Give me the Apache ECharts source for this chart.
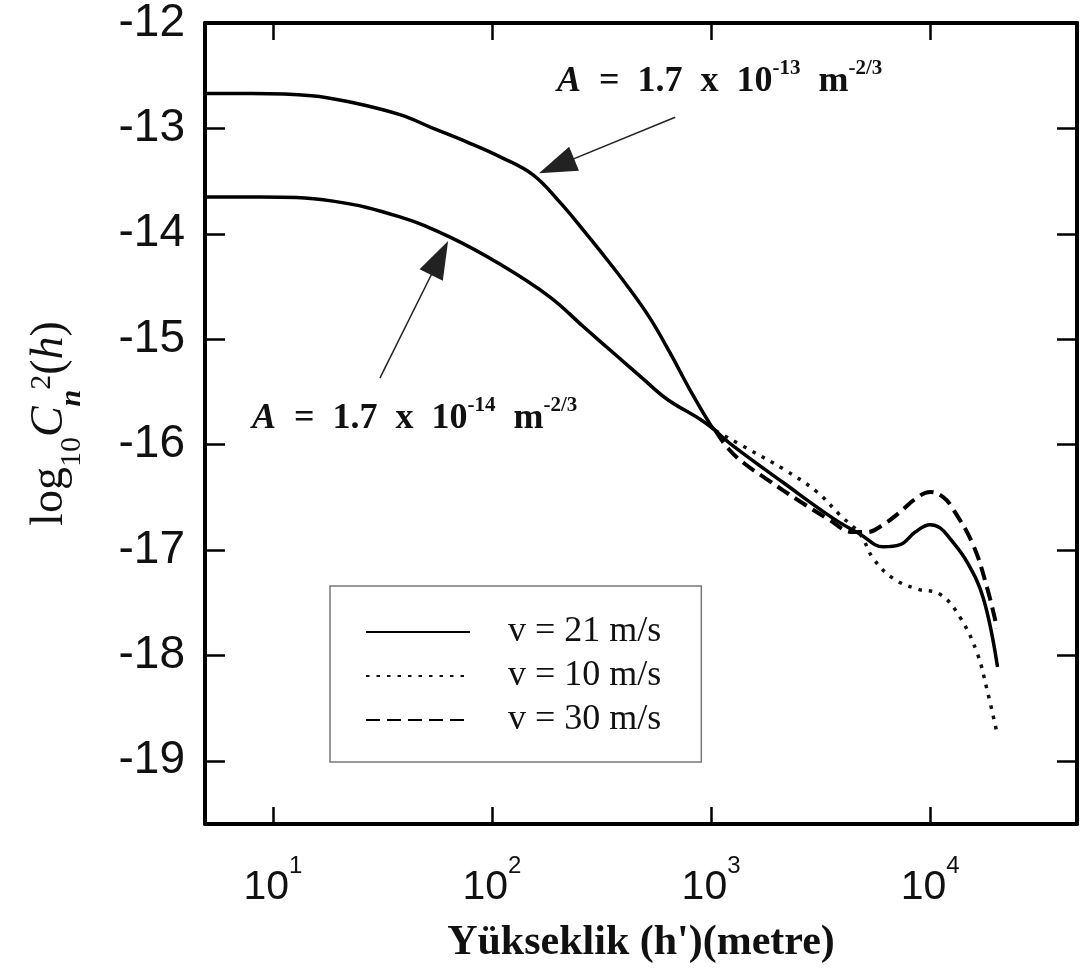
<!DOCTYPE html>
<html>
<head>
<meta charset="utf-8">
<script src="https://cdn.jsdelivr.net/npm/echarts@6/dist/echarts.min.js"></script>
<style>html,body{margin:0;padding:0;background:#fff}#c{width:1086px;height:970px}</style>
</head>
<body>
<div id="c"></div>
<script>
// ---- data ----
const yTicks = [-19, -18, -17, -16, -15, -14, -13, -12];
const xMin = 4.9, xMax = 46800, yMin = -19.6, yMax = -12;

// A = 1.7e-13, v = 21 m/s (solid, full range)
const hUpper = [4.9, 8, 15, 22.5, 38, 54, 77, 109, 154, 204, 260, 311, 413, 526, 650, 801, 1000, 1050, 1256, 2133, 3608, 4790, 6100, 7290, 8550, 10000, 11100, 12300, 14700, 17500, 20300];
const cUpper = [-12.67, -12.67, -12.69, -12.75, -12.87, -13.00, -13.13, -13.27, -13.44, -13.70, -13.96, -14.16, -14.49, -14.80, -15.13, -15.48, -15.82, -15.87, -16.01, -16.36, -16.70, -16.85, -16.97, -16.95, -16.83, -16.76, -16.79, -16.89, -17.11, -17.46, -18.11];

// A = 1.7e-14 (solid, until it merges)
const hLower = [4.9, 8.7, 18.8, 38, 64, 109, 184, 261, 372, 474, 630, 891, 1050];
const cLower = [-13.65, -13.65, -13.69, -13.84, -14.03, -14.29, -14.60, -14.88, -15.16, -15.35, -15.57, -15.76, -15.87];

// v = 10 m/s (dotted)
const hV10 = [1050, 1500, 2133, 3048, 3880, 4790, 5495, 6780, 8710, 11100, 13700, 16400, 18200, 20200];
const cV10 = [-15.87, -16.05, -16.23, -16.45, -16.67, -16.85, -17.08, -17.27, -17.37, -17.42, -17.64, -17.98, -18.33, -18.74];

// v = 30 m/s (dashed)
const hV30 = [1050, 1200, 1400, 1800, 2550, 3390, 4450, 5150, 6100, 7290, 8500, 10000, 11500, 12700, 15700, 18200, 20200];
const cV30 = [-15.87, -16.04, -16.17, -16.33, -16.54, -16.70, -16.83, -16.83, -16.76, -16.64, -16.52, -16.45, -16.50, -16.61, -16.95, -17.36, -17.74];

const seriesNames = ['v = 21 m/s', 'v = 10 m/s', 'v = 30 m/s'];

// arrows: [tail, head] in data coordinates
const arrowUpper = [[686, -12.894], [197, -13.356]];
const arrowLower = [[30.8, -15.37], [57.7, -14.23]];

const zip = (xs, ys) => xs.map((x, i) => [x, ys[i]]);

const SERIF = 'Liberation Serif';
const SANS = 'Liberation Sans';

function fmtX(v) {
  const l = Math.log10(v);
  const e = Math.round(l);
  if (Math.abs(l - e) > 1e-6) return '';
  return '{b|10}{s|' + e + '}';
}

const annRich = {
  n: { fontFamily: SERIF, fontWeight: 'bold', fontSize: 36, lineHeight: 42, verticalAlign: 'bottom', fill: '#111', color: '#111' },
  i: { fontFamily: SERIF, fontWeight: 'bold', fontStyle: 'italic', fontSize: 36, lineHeight: 42, verticalAlign: 'bottom', fill: '#111', color: '#111' },
  s: { fontFamily: SERIF, fontWeight: 'bold', fontSize: 21, lineHeight: 42, verticalAlign: 'top', fill: '#111', color: '#111' }
};

const chart = echarts.init(document.getElementById('c'), null, { renderer: 'canvas' });

const baseLine = { showSymbol: false, symbol: 'none', smooth: 0.4, xAxisIndex: 0, yAxisIndex: 0, z: 3 };

const option = {
  animation: false,
  backgroundColor: '#fff',
  grid: { left: 205, right: 9, top: 17, bottom: 146, containLabel: false },
  legend: {
    data: seriesNames,
    orient: 'vertical',
    left: 330, top: 586,
    padding: [24, 40, 20, 35],
    itemGap: 0,
    itemWidth: 104, itemHeight: 14,
    borderColor: '#777', borderWidth: 1.5,
    backgroundColor: '#fff',
    selectedMode: false,
    itemStyle: { opacity: 0, borderWidth: 0 },
    textStyle: { fontFamily: SERIF, fontSize: 36, color: '#111', lineHeight: 44, padding: [0, 0, 0, 33] }
  },
  xAxis: [
    {
      type: 'log', logBase: 10, min: xMin, max: xMax, position: 'bottom',
      axisLine: { show: true, lineStyle: { color: '#000', width: 4 } },
      axisTick: { show: true, inside: true, length: 17, lineStyle: { color: '#000', width: 2.5 } },
      minorTick: { show: false }, splitLine: { show: false },
      axisLabel: {
        margin: 30, formatter: fmtX, showMinLabel: false, showMaxLabel: false,
        rich: {
          b: { fontFamily: SANS, fontSize: 41, lineHeight: 54, verticalAlign: 'bottom', color: '#111' },
          s: { fontFamily: SANS, fontSize: 24, lineHeight: 54, verticalAlign: 'top', color: '#111' }
        }
      },
      name: 'Yükseklik (h\')(metre)', nameLocation: 'middle', nameGap: 98,
      nameTextStyle: { fontFamily: SERIF, fontWeight: 'bold', fontSize: 42, color: '#111' }
    },
    {
      type: 'log', logBase: 10, min: xMin, max: xMax, position: 'top',
      axisLine: { show: true, lineStyle: { color: '#000', width: 4 } },
      axisTick: { show: true, inside: true, length: 17, lineStyle: { color: '#000', width: 2.5 } },
      minorTick: { show: false }, splitLine: { show: false },
      axisLabel: { show: false }
    }
  ],
  yAxis: [
    {
      type: 'value', min: yMin, max: yMax, position: 'left',
      axisLine: { show: true, lineStyle: { color: '#000', width: 4 } },
      axisTick: { show: true, inside: true, length: 20, lineStyle: { color: '#000', width: 2.5 }, customValues: yTicks },
      splitLine: { show: false },
      axisLabel: {
        customValues: yTicks, fontFamily: SANS, fontSize: 46, color: '#111', margin: 20,
        padding: [20, 0, 0, 0], formatter: v => String(v)
      },
      name: '{m|log}{sb|10}{i|C}{si|n}{sp|2}{m|(}{i|h}{m|)}',
      nameLocation: 'middle', nameGap: 118, nameRotate: 90,
      nameTextStyle: {
        rich: {
          m: { fontFamily: SERIF, fontSize: 46, lineHeight: 60, verticalAlign: 'top', color: '#111' },
          i: { fontFamily: SERIF, fontStyle: 'italic', fontSize: 46, lineHeight: 60, verticalAlign: 'top', color: '#111' },
          sb: { fontFamily: SERIF, fontSize: 30, lineHeight: 60, verticalAlign: 'bottom', color: '#111' },
          si: { fontFamily: SERIF, fontStyle: 'italic', fontWeight: 'bold', fontSize: 30, lineHeight: 60, verticalAlign: 'bottom', color: '#111' },
          sp: { fontFamily: SERIF, fontSize: 30, lineHeight: 60, verticalAlign: 'top', color: '#111' }
        }
      }
    },
    {
      type: 'value', min: yMin, max: yMax, position: 'right',
      axisLine: { show: true, lineStyle: { color: '#000', width: 4 } },
      axisTick: { show: true, inside: true, length: 20, lineStyle: { color: '#000', width: 2.5 }, customValues: yTicks },
      splitLine: { show: false },
      axisLabel: { show: false }
    }
  ],
  series: [
    Object.assign({}, baseLine, {
      name: seriesNames[0], type: 'line', data: zip(hUpper, cUpper),
      lineStyle: { color: '#000', width: 3.5, type: 'solid' }, itemStyle: { color: '#000' },
      markLine: {
        silent: true, animation: false,
        symbol: ['none', 'triangle'], symbolSize: [26, 38],
        label: { show: false },
        lineStyle: { color: '#222', width: 1.5, type: 'solid' },
        itemStyle: { color: '#111' },
        data: [
          [{ coord: arrowUpper[0] }, { coord: arrowUpper[1] }],
          [{ coord: arrowLower[0] }, { coord: arrowLower[1] }]
        ]
      }
    }),
    Object.assign({}, baseLine, {
      name: seriesNames[0], type: 'line', data: zip(hLower, cLower),
      lineStyle: { color: '#000', width: 3.5, type: 'solid' }, itemStyle: { color: '#000' }
    }),
    Object.assign({}, baseLine, {
      name: seriesNames[1], type: 'line', data: zip(hV10, cV10),
      lineStyle: { color: '#111', width: 3.5, type: [3.5, 7] }, itemStyle: { color: '#111' }
    }),
    Object.assign({}, baseLine, {
      name: seriesNames[2], type: 'line', data: zip(hV30, cV30),
      lineStyle: { color: '#000', width: 4, type: [14, 7] }, itemStyle: { color: '#000' }
    })
  ],
  graphic: [
    {
      type: 'text', x: 557, y: 58, z: 10,
      style: { text: '{i|A}{n|  =  1.7  x  10}{s|-13}{n|  m}{s|-2/3}', rich: annRich, align: 'left', verticalAlign: 'top', fill: '#111' }
    },
    {
      type: 'text', x: 252, y: 395, z: 10,
      style: { text: '{i|A}{n|  =  1.7  x  10}{s|-14}{n|  m}{s|-2/3}', rich: annRich, align: 'left', verticalAlign: 'top', fill: '#111' }
    }
  ]
};

chart.setOption(option);
</script>
</body>
</html>
